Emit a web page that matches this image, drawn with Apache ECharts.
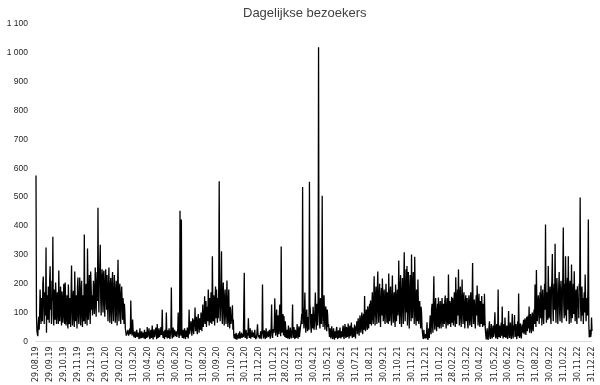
<!DOCTYPE html>
<html><head><meta charset="utf-8">
<script src="https://cdn.jsdelivr.net/npm/echarts@6/dist/echarts.min.js"></script>
<style>html,body{margin:0;padding:0;background:#fff}#c{width:600px;height:385px}</style>
</head><body><div id="c"></div>
<script>
// Daily visitors, 29.08.2019 .. 31.12.2022
const startDate = [2019, 8, 29];
const v2019 = [575,92,38,
25,18,60,85,40,95,180,120,60,150,95,70,200,225,140,60,170,110,90,325,30,160,120,75,190,135,65,210,260,110,
150,60,210,140,363,90,55,180,130,75,204,160,60,120,170,95,60,246,150,70,130,190,100,55,173,120,65,140,200,90,60,
204,140,55,110,160,80,45,197,130,60,150,100,50,170,263,120,55,140,175,85,50,242,130,70,160,110,45,190,221,95,
60,150,221,110,55,180,210,90,50,160,130,70,370,140,60,170,200,95,55,322,180,75,150,230,120,60,242,190,110,160,90];
const v2020 = [120,210,180,95,150,256,130,85,200,240,140,463,180,100,220,260,335,150,90,210,250,170,100,230,245,130,85,200,250,160,110,
230,130,70,180,256,140,65,190,220,110,60,200,240,120,70,170,230,150,65,160,210,100,55,190,283,130,70,180,200,
110,60,160,190,140,75,150,120,60,130,100,45,35,20,15,30,25,40,20,15,30,45,25,142,60,30,20,76,40,25,15,
20,35,12,8,25,40,15,10,30,22,8,18,45,20,10,28,35,12,6,30,25,10,40,18,8,32,20,12,50,15,
10,30,45,15,8,25,40,12,20,55,18,7,30,42,15,10,35,48,20,8,60,25,12,38,45,15,9,30,50,22,40,
110,25,12,35,20,8,40,30,15,100,22,10,38,28,12,45,20,8,30,42,187,25,10,35,48,15,9,40,30,18,
20,35,15,10,40,100,25,12,30,453,45,20,422,30,12,40,25,10,35,45,18,8,38,30,15,48,22,10,40,110,25,
30,55,70,40,20,60,80,45,25,75,50,117,35,65,85,40,25,70,95,55,30,80,60,40,100,75,35,90,128,50,45,
90,156,60,110,140,50,120,95,70,180,130,55,150,110,65,170,140,60,295,120,70,160,135,55,145,190,80,180,120,65,
150,80,190,555,140,70,120,200,312,90,60,170,204,110,55,150,180,95,60,140,211,100,50,130,180,75,45,120,110,60,90,
70,125,40,76,20,10,25,15,8,30,18,6,22,12,28,9,15,35,10,7,20,30,12,8,25,15,10,238,20,12,
25,40,15,8,30,20,80,35,12,28,45,10,6,22,38,15,9,30,25,12,40,18,8,20,10,5,59,30,15,22,10];
const v2021 = [12,20,35,8,25,40,197,30,10,15,38,22,8,30,45,12,6,28,35,15,10,40,25,9,32,48,128,20,12,35,42,
30,60,149,45,20,80,110,35,15,90,70,25,100,128,40,18,329,85,30,65,95,20,88,50,15,70,45,12,
25,40,10,30,55,15,8,35,48,20,10,28,45,128,12,30,50,18,8,40,35,12,25,60,22,9,38,52,15,30,45,
40,70,95,60,535,120,80,45,100,169,65,30,90,110,55,35,85,75,40,553,130,104,50,30,95,70,45,120,85,40,
60,110,169,75,40,130,90,55,145,1019,120,70,45,150,100,60,140,505,95,50,125,160,80,40,110,121,65,35,110,90,50,
60,35,15,45,25,10,40,52,20,8,30,45,15,6,35,28,12,42,50,18,8,30,38,12,25,48,20,10,35,40,
15,45,55,20,8,38,60,25,12,50,42,15,30,62,22,10,45,55,18,35,65,28,12,48,40,15,30,58,25,10,52,
40,70,25,55,80,35,20,65,90,45,30,75,100,50,25,85,95,40,157,70,35,90,110,55,40,122,80,45,105,130,60,
142,90,55,130,170,80,60,150,226,110,55,160,190,95,60,175,242,120,65,150,200,100,50,140,185,90,218,160,70,130,
180,85,60,150,200,110,65,170,130,60,235,140,70,160,190,95,55,150,228,120,65,140,170,80,50,197,150,70,130,180,90,
140,280,110,60,190,230,95,50,170,220,120,60,200,309,140,70,180,250,100,261,55,190,240,110,45,170,230,130,70,301,
150,80,200,240,120,60,293,170,90,55,180,150,70,214,130,60,110,140,90,45,120,100,50,30,15,8,40,20,10,5,25];
const v2022 = [10,30,66,15,5,20,45,12,60,90,40,25,110,130,55,30,140,226,80,40,120,150,60,35,100,130,50,152,90,45,120,
140,65,45,120,150,80,50,130,110,60,140,159,75,45,120,150,70,55,232,110,60,140,130,50,100,155,65,150,
90,55,140,170,80,50,222,130,60,150,180,90,249,120,55,160,190,85,50,140,214,110,60,150,170,80,45,130,160,70,120,
150,60,45,130,160,85,55,140,170,75,50,140,272,110,60,130,145,70,45,120,160,90,194,120,55,135,165,70,50,140,
120,60,157,90,50,130,110,55,165,80,40,20,7,30,45,12,5,25,50,70,15,8,35,60,20,10,40,55,15,30,65,
101,25,10,45,60,18,8,180,40,15,55,30,12,50,65,20,121,35,10,48,60,15,83,40,12,30,55,20,8,45,
105,30,12,50,65,20,8,45,96,25,10,55,40,91,15,35,60,22,8,48,70,18,166,40,12,55,62,20,10,45,58,
30,60,75,25,45,80,40,22,70,85,35,55,90,45,121,30,65,95,50,28,80,100,45,35,90,110,60,197,120,50,247,
130,70,100,160,140,60,120,170,80,194,130,55,150,180,90,60,140,200,110,405,150,65,170,130,75,261,160,80,140,190,
90,60,180,210,303,120,70,160,200,110,338,140,65,170,220,150,60,130,190,240,100,70,180,210,120,65,160,230,395,130,80,
200,90,295,150,70,180,220,110,295,140,60,190,210,100,65,266,170,80,150,200,95,243,160,70,130,180,90,60,191,120,
150,80,200,180,499,120,70,160,190,90,150,60,130,170,100,232,140,70,120,150,90,180,422,60,14,20,40,15,25,83,36];
const tickLabels = ['29.08.19','29.09.19','29.10.19','29.11.19','29.12.19','29.01.20','29.02.20','31.03.20','30.04.20','31.05.20','30.06.20','31.07.20','31.08.20','30.09.20','31.10.20','30.11.20','31.12.20','31.01.21','28.02.21','31.03.21','30.04.21','31.05.21','30.06.21','31.07.21','31.08.21','30.09.21','31.10.21','30.11.21','31.12.21','31.01.22','28.02.22','31.03.22','30.04.22','31.05.22','30.06.22','31.07.22','31.08.22','30.09.22','31.10.22','30.11.22','31.12.22'];

const values = v2019.concat(v2020, v2021, v2022);
const pad = n => (n < 10 ? '0' : '') + n;
const categories = values.map((_, i) => {
  const d = new Date(Date.UTC(startDate[0], startDate[1] - 1, startDate[2] + i));
  return pad(d.getUTCDate()) + '.' + pad(d.getUTCMonth() + 1) + '.' + String(d.getUTCFullYear()).slice(2);
});
const tickSet = new Set(tickLabels);

const chart = echarts.init(document.getElementById('c'), null, {renderer: 'canvas'});
chart.setOption({
  animation: false,
  backgroundColor: '#fff',
  title: {
    text: 'Dagelijkse bezoekers', left: 238, top: 2,
    textStyle: {fontFamily: 'Liberation Sans', fontSize: 13, fontWeight: 'normal', color: '#404040'}
  },
  grid: {left: 36, right: 8, top: 24, bottom: 43},
  xAxis: {
    type: 'category', data: categories, boundaryGap: false,
    axisLine: {show: true, lineStyle: {color: '#d9d9d9', width: 1}},
    axisTick: {show: false},
    axisLabel: {
      interval: (i, v) => tickSet.has(v), rotate: 90, margin: 5,
      fontFamily: 'DejaVu Sans', fontSize: 8, color: '#262626'
    },
    splitLine: {show: false}
  },
  yAxis: {
    type: 'value', min: 0, max: 1100, interval: 100,
    axisLine: {show: false}, axisTick: {show: false}, splitLine: {show: false},
    axisLabel: {
      margin: 8, fontFamily: 'Liberation Sans', fontSize: 8.5, color: '#262626',
      formatter: v => v >= 1000 ? Math.floor(v / 1000) + ' ' + String(v % 1000).padStart(3, '0') : String(v)
    }
  },
  series: [{
    type: 'line', data: values, showSymbol: false, symbol: 'none',
    lineStyle: {color: '#000', width: 1.3}, sampling: null
  }]
});
</script></body></html>
